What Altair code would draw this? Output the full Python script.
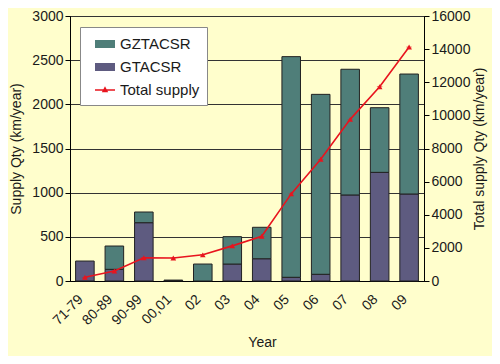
import altair as alt
import pandas as pd

categories = ["71-79", "80-89", "90-99", "00,01", "02", "03", "04", "05", "06", "07", "08", "09"]
gtacsr = [226, 132, 660, 6, 0, 192, 252, 42, 76, 974, 1230, 985]
gztacsr = [0, 264, 121, 4, 192, 310, 356, 2498, 2037, 1423, 732, 1358]
total_supply = [230, 600, 1400, 1390, 1580, 2120, 2700, 5260, 7350, 9760, 11730, 14130]

series_names = ["GZTACSR", "GTACSR", "Total supply"]
series_colors = ["#4F7E79", "#5E5B80", "#E8141E"]
rect_path = "M-1,-0.4H1V0.4H-1Z"
line_path = "M-1,-0.08H1V0.08H-1Z M0,-0.38L0.32,0.22L-0.32,0.22Z"

rows = []
for c, a, b in zip(categories, gtacsr, gztacsr):
    if a > 0:
        rows.append({"cat": c, "series": "GTACSR", "value": a, "ord": 0})
    if b > 0:
        rows.append({"cat": c, "series": "GZTACSR", "value": b, "ord": 1})
bars_df = pd.DataFrame(rows)
line_df = pd.DataFrame({"cat": categories, "total": total_supply, "series": "Total supply"})

FONT = "Liberation Sans"
BG = "#FFFECC"

x_enc = alt.X(
    "cat:N",
    sort=categories,
    scale=alt.Scale(paddingInner=0.37, paddingOuter=0.19),
    axis=alt.Axis(
        title="Year", labelAngle=-45, labelAlign="right", labelBaseline="middle",
        labelFontSize=14, labelFont=FONT, labelColor="#1a1a1a", ticks=False,
        domainColor="#000", titleFontSize=14, titleFont=FONT, titleFontWeight="normal",
        titleColor="#1a1a1a", titlePadding=8, labelPadding=16, labelOffset=-4, titleX=192,
    ),
)

color_enc = alt.Color(
    "series:N",
    scale=alt.Scale(domain=series_names, range=series_colors),
    legend=alt.Legend(
        title=None, orient="none", legendX=10, legendY=11,
        fillColor="white", strokeColor="#888", padding=7,
        labelFont=FONT, labelFontSize=15, labelColor="#1a1a1a",
        symbolSize=400, symbolStrokeWidth=0, rowPadding=5, labelOffset=5,
        symbolOffset=8,
    ),
)

bars = alt.Chart(bars_df).mark_bar(stroke="#222", strokeWidth=1).encode(
    x=x_enc,
    y=alt.Y(
        "value:Q", stack="zero",
        scale=alt.Scale(domain=[0, 3000], nice=False),
        axis=alt.Axis(
            title="Supply Qty (km/year)", values=list(range(0, 3001, 500)), format="d",
            grid=True, gridColor="#333", gridWidth=1, tickColor="#000", tickSize=5,
            domainColor="#000", labelFont=FONT, labelFontSize=14, labelColor="#1a1a1a",
            titleFont=FONT, titleFontSize=14, titleFontWeight="normal", titleColor="#1a1a1a",
            titlePadding=8,
        ),
    ),
    color=color_enc,
    order=alt.Order("ord:Q"),
)

right_scale = alt.Scale(domain=[0, 16000], nice=False)

line = alt.Chart(line_df).mark_line(color="#E8141E", strokeWidth=1.6).encode(
    x=alt.X("cat:N", sort=categories),
    y=alt.Y(
        "total:Q", scale=right_scale,
        axis=alt.Axis(
            orient="right", title="Total supply Qty (km/year)", format="d",
            values=list(range(0, 16001, 2000)), grid=False, tickColor="#000", tickSize=5,
            domainColor="#000", labelFont=FONT, labelFontSize=14, labelColor="#1a1a1a",
            titleFont=FONT, titleFontSize=14, titleFontWeight="normal", titleColor="#1a1a1a",
            titleAngle=270, titlePadding=17,
        ),
    ),
)

points = alt.Chart(line_df).mark_point(filled=True, size=30, opacity=1).encode(
    x=alt.X("cat:N", sort=categories),
    y=alt.Y("total:Q", scale=right_scale, axis=None),
    color=alt.Color("series:N", scale=alt.Scale(domain=series_names, range=series_colors)),
    shape=alt.Shape(
        "series:N",
        scale=alt.Scale(domain=series_names, range=[rect_path, rect_path, line_path]),
    ),
)

tri = alt.Chart(line_df).mark_point(filled=True, size=32, shape="triangle-up", color="#E8141E", opacity=1).encode(
    x=alt.X("cat:N", sort=categories),
    y=alt.Y("total:Q", scale=right_scale, axis=None),
)

chart = alt.layer(bars, line, points, tri).resolve_scale(y="independent").properties(
    width=354, height=265,
    autosize=alt.AutoSizeParams(type="none"),
    padding={"left": 62, "top": 8, "right": 68, "bottom": 75},
    background=BG,
).configure_view(stroke="#000", fill=BG).configure_point(opacity=1)

chart.save("out.html", embed_options={"renderer": "svg", "actions": False})
